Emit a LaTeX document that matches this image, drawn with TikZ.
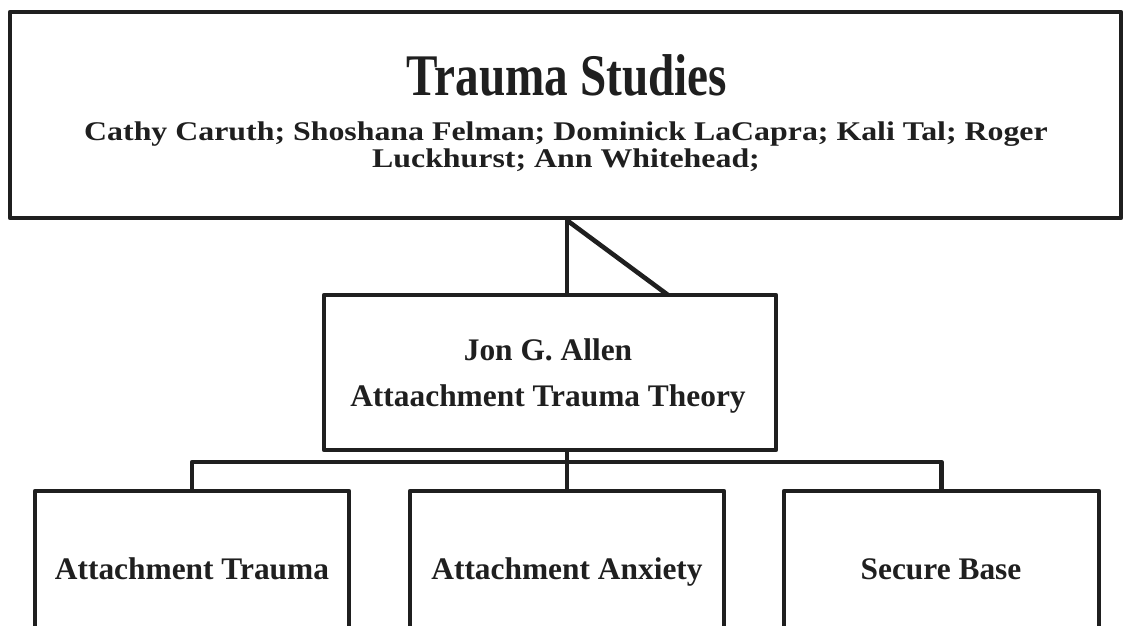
\documentclass[tikz,border=0pt]{standalone}
\usepackage{fontspec}
\setmainfont{Liberation Serif}
\begin{document}
\begin{tikzpicture}[x=1pt,y=-1pt,
  box/.style={draw=black!88, line width=4.6pt, line join=round, inner sep=0pt, fill=none},
  link/.style={draw=black!88, line width=4.6pt, line join=round},
  lbl/.style={inner sep=0pt, anchor=base, text=black!88, font=\bfseries}]
\useasboundingbox (0,0) rectangle (1124,625);
% boxes
\node[box, minimum width=1111pt, minimum height=206pt] (top) at (565.5,115) {};
\node[box, minimum width=452pt, minimum height=155pt] (mid) at (550,372.5) {};
\node[box, minimum width=314pt, minimum height=200pt] (b1) at (192,591) {};
\node[box, minimum width=314pt, minimum height=200pt] (b2) at (567,591) {};
\node[box, minimum width=315pt, minimum height=200pt] (b3) at (941.5,591) {};
% texts
\node[lbl, font=\bfseries\fontsize{47.2}{50}\selectfont] (title) at (567,95) {\scalebox{1}[1.25]{Trauma Studies}};
\node[lbl, font=\bfseries\fontsize{27}{28}\selectfont] (names1) at (566,140) {\scalebox{1.18}[1]{Cathy Caruth; Shoshana Felman; Dominick LaCapra; Kali Tal; Roger}};
\node[lbl, font=\bfseries\fontsize{27}{28}\selectfont] (names2) at (566,167) {\scalebox{1.18}[1]{Luckhurst; Ann Whitehead;}};
\node[lbl, font=\bfseries\fontsize{31.4}{34}\selectfont] (jon) at (548,360) {Jon G. Allen};
\node[lbl, font=\bfseries\fontsize{31.4}{34}\selectfont] (theory) at (548,406) {Attaachment Trauma Theory};
\node[lbl, font=\bfseries\fontsize{31.4}{34}\selectfont] (t1) at (192,579) {Attachment Trauma};
\node[lbl, font=\bfseries\fontsize{31.4}{34}\selectfont] (t2) at (567,579) {Attachment Anxiety};
\node[lbl, font=\bfseries\fontsize{31.4}{34}\selectfont] (t3) at (941,579) {Secure Base};
% connectors
\coordinate (tb) at (top.south -| b2.north);
\coordinate (hb) at (567,462);
\draw[link] (tb) -- (tb |- mid.north);
\draw[link] (tb) -- (668,295);
\draw[link] (mid.south -| hb) -- (b2.north -| hb);
\draw[link] (b1.north) -- (b1.north |- hb) -- (b3.north |- hb) -- (b3.north);
\end{tikzpicture}
\end{document}
